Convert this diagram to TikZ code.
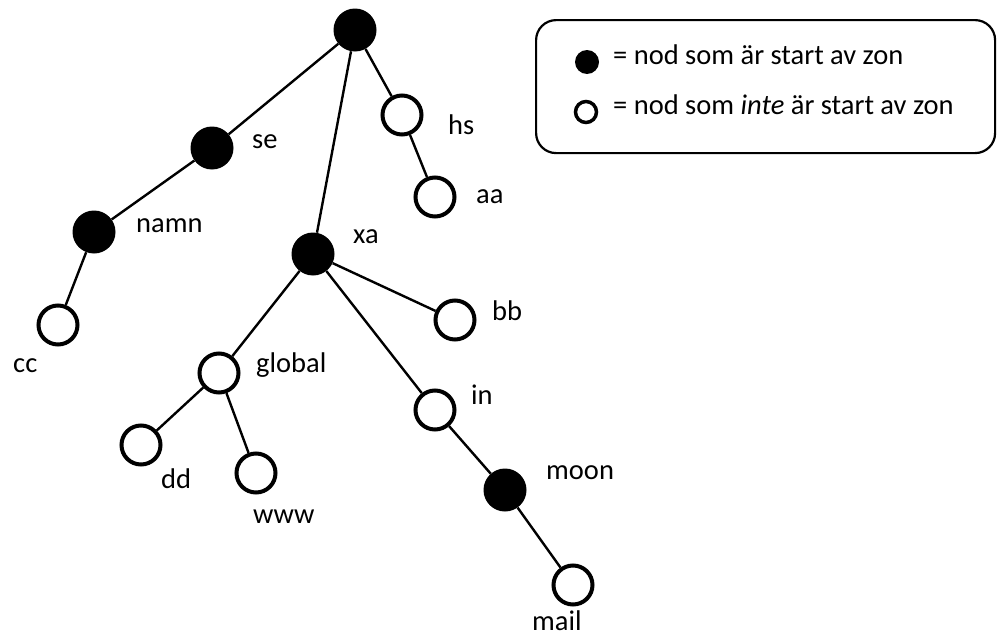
\documentclass[tikz,border=0pt]{standalone}
\usepackage{fontspec}
\setmainfont{Carlito}
\begin{document}
\begin{tikzpicture}[x=1pt,y=-1pt,
  zone/.style={circle,fill=black,draw=none,minimum size=43pt,inner sep=0pt},
  plain/.style={circle,fill=white,draw=black,line width=4pt,minimum size=39pt,inner sep=0pt},
  lbl/.style={anchor=base west,inner sep=0pt,font=\fontsize{28.5}{34}\selectfont},
  edge/.style={line width=2.4pt,black}]
\useasboundingbox (0,0) rectangle (997,637);
% nodes
\node[zone]  (root)   at (355,30)  {};
\node[zone]  (se)     at (212,148) {};
\node[zone]  (namn)   at (94,232)  {};
\node[plain] (hs)     at (402,115) {};
\node[plain] (aa)     at (435,197) {};
\node[zone]  (xa)     at (313,254) {};
\node[plain] (cc)     at (58,325)  {};
\node[plain] (global) at (219,373) {};
\node[plain] (dd)     at (141,445) {};
\node[plain] (www)    at (256,473) {};
\node[plain] (bb)     at (455,320) {};
\node[plain] (in)     at (435,410) {};
\node[zone]  (moon)   at (505,490) {};
\node[plain] (mail)   at (573,585) {};
% edges
\draw[edge] (root) -- (se);
\draw[edge] (root) -- (xa);
\draw[edge] (root) -- (hs);
\draw[edge] (hs) -- (aa);
\draw[edge] (se) -- (namn);
\draw[edge] (namn) -- (cc);
\draw[edge] (xa) -- (global);
\draw[edge] (xa) -- (bb);
\draw[edge] (xa) -- (in);
\draw[edge] (global) -- (dd);
\draw[edge] (global) -- (www);
\draw[edge] (in) -- (moon);
\draw[edge] (moon) -- (mail);
% labels
\node[lbl] (lse)     at (252,148) {se};
\node[lbl] (lhs)     at (448,134) {hs};
\node[lbl] (laa)     at (476,203) {aa};
\node[lbl] (lnamn)   at (136,232) {namn};
\node[lbl] (lxa)     at (353,243) {xa};
\node[lbl] (lcc)     at (13,372)  {cc};
\node[lbl] (lglobal) at (256,372) {global};
\node[lbl] (ldd)     at (161,488) {dd};
\node[lbl] (lwww)    at (253,523) {www};
\node[lbl] (lbb)     at (492,320) {bb};
\node[lbl] (lin)     at (471,404) {in};
\node[lbl] (lmoon)   at (546,479) {moon};
\node[lbl] (lmail)   at (532,630) {mail};
% legend
\node[draw=black,line width=2.2pt,rounded corners=20pt,minimum width=459pt,minimum height=133pt,anchor=north west,inner sep=0pt] (legend) at (535,19) {};
\node[circle,fill=black,minimum size=24pt,inner sep=0pt] (lgzone) at (587,62) {};
\node[circle,draw=black,fill=white,line width=3.5pt,minimum size=21pt,inner sep=0pt] (lgplain) at (586,112) {};
\node[lbl] (lgt1) at (613,64)  {= nod som är start av zon};
\node[lbl] (lgt2) at (613,114) {= nod som \textit{inte} är start av zon};
\end{tikzpicture}
\end{document}
